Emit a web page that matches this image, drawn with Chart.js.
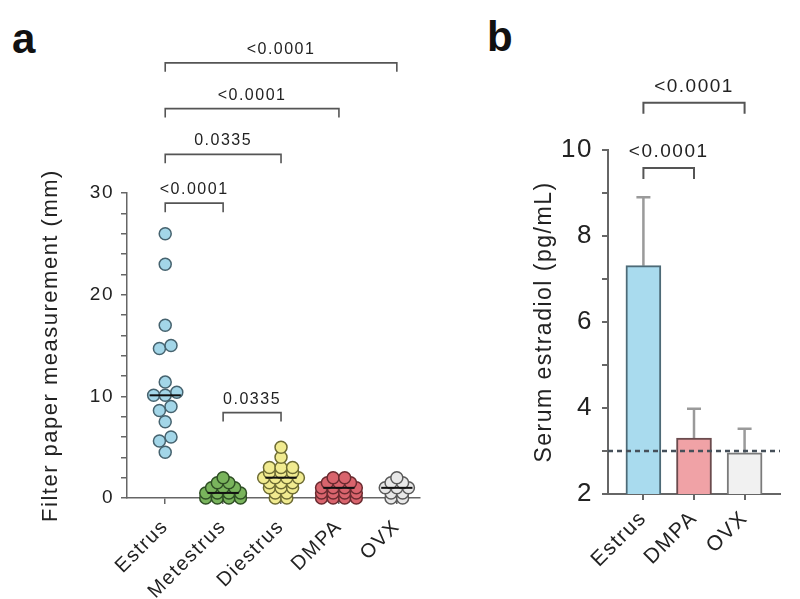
<!DOCTYPE html>
<html>
<head>
<meta charset="utf-8">
<title>Estrus cycle measurements</title>
<script src="https://cdn.jsdelivr.net/npm/chart.js@4.4.0/dist/chart.umd.min.js"></script>
<style>
    html, body { margin: 0; padding: 0; background: #fff; }
    body { width: 800px; height: 599px; position: relative; overflow: hidden; font-family: "Liberation Sans", Arial, sans-serif; }
    .panel { position: absolute; top: 0; height: 599px; }
    #panelA { left: 0; width: 450px; }
    #panelB { left: 460px; width: 340px; }
    .letter { position: absolute; font-size: 42px; font-weight: bold; line-height: 42px; color: #111; }
</style>
</head>
<body>
<div class="letter" style="left:12px; top:18px;">a</div>
<div class="letter" style="left:487px; top:16px;">b</div>
<div class="panel" id="panelA"><canvas id="chartA"></canvas></div>
<div class="panel" id="panelB"><canvas id="chartB"></canvas></div>

<script>
// Panel a - filter paper measurement (mm), one value per animal
const groupsA = ['Estrus', 'Metestrus', 'Diestrus', 'DMPA', 'OVX'];
const estrusA = [26, 23, 17, 15, 14.7, 11.4, 10.4, 10.1, 10.1, 9.0, 8.6, 7.5, 6.0, 5.6, 4.5];
const metestrusA = [2, 1.5, 1.5, 1, 1, 1, 0.5, 0.5, 0.5, 0.5, 0, 0, 0, 0];
const diestrusA = [5, 4, 3, 3, 3, 2.5, 2.5, 2.5, 2, 2, 2, 2, 1.5, 1.5, 1.5, 1, 1, 1, 0.5, 0.5, 0, 0];
const dmpaA = [2, 2, 1.5, 1.5, 1.5, 1, 1, 1, 1, 0.5, 0.5, 0.5, 0.5, 0, 0, 0, 0];
const ovxA = [2, 1.5, 1.5, 1, 1, 1, 0.5, 0.5, 0, 0];
const valuesA = [estrusA, metestrusA, diestrusA, dmpaA, ovxA];
const fillA = ['#a3d6e8', '#79b45c', '#f1eb90', '#d9646d', '#e8e8e8'];
const edgeA = ['#46636f', '#2f4f25', '#6e6c34', '#6a2b30', '#5a5a5a'];
const yTicksA = [0, 10, 20, 30];

// p-value brackets for panel a (group indexes, bracket level in mm)
const bracketsA = [
    { from: 0, to: 4, level: 42.8, label: '<0.0001' },
    { from: 0, to: 3, level: 38.3, label: '<0.0001' },
    { from: 0, to: 2, level: 33.8, label: '0.0335' },
    { from: 0, to: 1, level: 29.0, label: '<0.0001' },
    { from: 1, to: 2, level: 8.4, label: '0.0335' }
];

// Panel b - serum estradiol (pg/mL), mean and SD
const groupsB = ['Estrus', 'DMPA', 'OVX'];
const meanB = [7.31, 3.30, 2.96];
const sdB = [1.59, 0.68, 0.56];
const fillB = ['#a9dbee', '#f0a2a6', '#f1f1f1'];
const edgeB = ['#4d6a77', '#6b4b4d', '#7a7a7a'];
const detectionLimitB = 3.0;
const yTicksB = [2, 4, 6, 8, 10];
const bracketsB = [
    { from: 0, to: 2, level: 11.1, label: '<0.0001' },
    { from: 0, to: 1, level: 9.58, label: '<0.0001' }
];

Chart.defaults.font.family = '"Liberation Sans", Arial, sans-serif';
Chart.defaults.color = '#222';
Chart.defaults.animation = false;

const axisColor = '#666';

function median(arr) {
    const s = [...arr].sort((a, b) => a - b);
    const m = s.length >> 1;
    return s.length % 2 ? s[m] : (s[m - 1] + s[m]) / 2;
}

// simple row-based swarm: values close together share a row and spread sideways
function swarm(values, index, spread, rowGap) {
    const sorted = [...values].sort((a, b) => a - b);
    const rows = [];
    sorted.forEach(v => {
        const row = rows[rows.length - 1];
        if (row && v - row[0] < rowGap) row.push(v);
        else rows.push([v]);
    });
    const pts = [];
    rows.forEach(row => {
        row.forEach((v, k) => pts.push({ x: index + (k - (row.length - 1) / 2) * spread, y: v }));
    });
    return pts;
}

// the source figure uses slightly wide-set lettering
const spacingPlugin = {
    id: 'spacing',
    beforeDraw(chart, args, opts) { chart.ctx.letterSpacing = opts.value; },
    afterDraw(chart) { chart.ctx.letterSpacing = '0px'; }
};

const bracketPlugin = {
    id: 'brackets',
    afterDatasetsDraw(chart, args, opts) {
        const { ctx, scales: { x, y } } = chart;
        ctx.save();
        ctx.strokeStyle = opts.color;
        ctx.lineWidth = opts.width;
        ctx.fillStyle = '#222';
        ctx.font = opts.font;
        ctx.textAlign = 'center';
        ctx.textBaseline = 'alphabetic';
        opts.items.forEach(b => {
            const x1 = x.getPixelForValue(b.from);
            const x2 = x.getPixelForValue(b.to);
            const yp = y.getPixelForValue(b.level);
            ctx.beginPath();
            ctx.moveTo(x1, yp + opts.leg);
            ctx.lineTo(x1, yp);
            ctx.lineTo(x2, yp);
            ctx.lineTo(x2, yp + opts.leg);
            ctx.stroke();
            ctx.fillText(b.label, (x1 + x2) / 2, yp - opts.gap);
        });
        ctx.restore();
    }
};

// upward SD whiskers for the bar panel
const errorBarPlugin = {
    id: 'errorBars',
    beforeDatasetsDraw(chart, args, opts) {
        const { ctx, scales: { x, y } } = chart;
        ctx.save();
        ctx.strokeStyle = opts.color;
        ctx.lineWidth = opts.width;
        meanB.forEach((m, i) => {
            const xp = x.getPixelForValue(i);
            const top = y.getPixelForValue(m + sdB[i]);
            ctx.beginPath();
            ctx.moveTo(xp, y.getPixelForValue(m));
            ctx.lineTo(xp, top);
            ctx.moveTo(xp - opts.cap, top);
            ctx.lineTo(xp + opts.cap, top);
            ctx.stroke();
        });
        ctx.restore();
    }
};

// ---------- panel a ----------
const datasetsA = [];
valuesA.forEach((vals, i) => {
    datasetsA.push({
        type: 'scatter',
        label: groupsA[i],
        data: swarm(vals, i, 0.2, 0.5),
        backgroundColor: fillA[i],
        borderColor: edgeA[i],
        borderWidth: 1.5,
        pointRadius: 6,
        clip: false,
        order: 2
    });
    const m = median(vals);
    datasetsA.push({
        type: 'line',
        label: groupsA[i] + ' median',
        data: [{ x: i - 0.27, y: m }, { x: i + 0.27, y: m }],
        borderColor: '#111',
        borderWidth: 2,
        pointRadius: 0,
        clip: false,
        order: 1
    });
});

new Chart(document.getElementById('chartA'), {
    type: 'scatter',
    data: { datasets: datasetsA },
    options: {
        responsive: true,
        maintainAspectRatio: false,
        layout: { padding: { top: 193, right: 30, bottom: 0, left: 0 } },
        plugins: {
            legend: { display: false },
            tooltip: { enabled: false },
            spacing: { value: '1.5px' },
            brackets: { items: bracketsA, color: '#555', width: 1.6, leg: 9, gap: 9, font: '16px "Liberation Sans", Arial, sans-serif' }
        },
        scales: {
            x: {
                type: 'linear',
                min: -0.66,
                max: 4.4,
                afterBuildTicks: s => { s.ticks = groupsA.map((_, i) => ({ value: i })); },
                afterFit: s => { s.height = 101; },
                ticks: {
                    autoSkip: false,
                    minRotation: 45,
                    maxRotation: 45,
                    padding: 11,
                    font: { size: 20 },
                    callback: v => groupsA[v]
                },
                grid: { drawOnChartArea: false, tickLength: 6, color: axisColor, lineWidth: 1.5 },
                border: { color: axisColor, width: 1.5 }
            },
            y: {
                min: 0,
                max: 30,
                afterFit: s => { s.width = 127; },
                ticks: {
                    stepSize: 2,
                    autoSkip: false,
                    padding: 7,
                    font: { size: 19 },
                    callback: v => yTicksA.includes(v) ? v : ''
                },
                grid: { drawOnChartArea: false, tickLength: 6, color: axisColor, lineWidth: 1.5 },
                border: { color: axisColor, width: 1.5 },
                title: {
                    display: true,
                    text: 'Filter paper measurement (mm)',
                    font: { size: 22 },
                    padding: { top: 38, bottom: 0 }
                }
            }
        }
    },
    plugins: [spacingPlugin, bracketPlugin]
});

// ---------- panel b ----------
new Chart(document.getElementById('chartB'), {
    type: 'bar',
    data: {
        datasets: [
            {
                type: 'line',
                label: 'Detection limit',
                data: [{ x: -0.7, y: detectionLimitB }, { x: 2.7, y: detectionLimitB }],
                borderColor: '#46505a',
                borderWidth: 2.5,
                borderDash: [5, 4],
                pointRadius: 0,
                order: 0
            },
            {
                label: 'Serum estradiol',
                data: meanB.map((m, i) => ({ x: i, y: m })),
                backgroundColor: fillB,
                borderColor: edgeB,
                borderWidth: 2,
                barThickness: 35,
                order: 1
            }
        ]
    },
    options: {
        responsive: true,
        maintainAspectRatio: false,
        layout: { padding: { top: 150, right: 20, bottom: 0, left: 0 } },
        plugins: {
            legend: { display: false },
            tooltip: { enabled: false },
            spacing: { value: '1.5px' },
            brackets: { items: bracketsB, color: '#555', width: 2, leg: 11, gap: 11, font: '19px "Liberation Sans", Arial, sans-serif' },
            errorBars: { color: '#9a9a9a', width: 2.5, cap: 7 }
        },
        scales: {
            x: {
                type: 'linear',
                min: -0.7,
                max: 2.7,
                offset: false,
                afterBuildTicks: s => { s.ticks = groupsB.map((_, i) => ({ value: i })); },
                afterFit: s => { s.height = 105; },
                ticks: {
                    autoSkip: false,
                    minRotation: 45,
                    maxRotation: 45,
                    padding: 6,
                    font: { size: 21 },
                    callback: v => groupsB[v]
                },
                grid: { offset: false, drawOnChartArea: false, tickLength: 6, color: axisColor, lineWidth: 2 },
                border: { color: axisColor, width: 2 }
            },
            y: {
                min: 2,
                max: 10,
                afterFit: s => { s.width = 148; },
                ticks: {
                    stepSize: 1,
                    autoSkip: false,
                    padding: 9,
                    font: { size: 26 },
                    callback: v => yTicksB.includes(v) ? v : ''
                },
                grid: { drawOnChartArea: false, tickLength: 6, color: axisColor, lineWidth: 2 },
                border: { color: axisColor, width: 2 },
                title: {
                    display: true,
                    text: 'Serum estradiol (pg/mL)',
                    font: { size: 23 },
                    padding: { top: 71, bottom: 0 }
                }
            }
        }
    },
    plugins: [spacingPlugin, bracketPlugin, errorBarPlugin]
});
</script>
</body>
</html>
